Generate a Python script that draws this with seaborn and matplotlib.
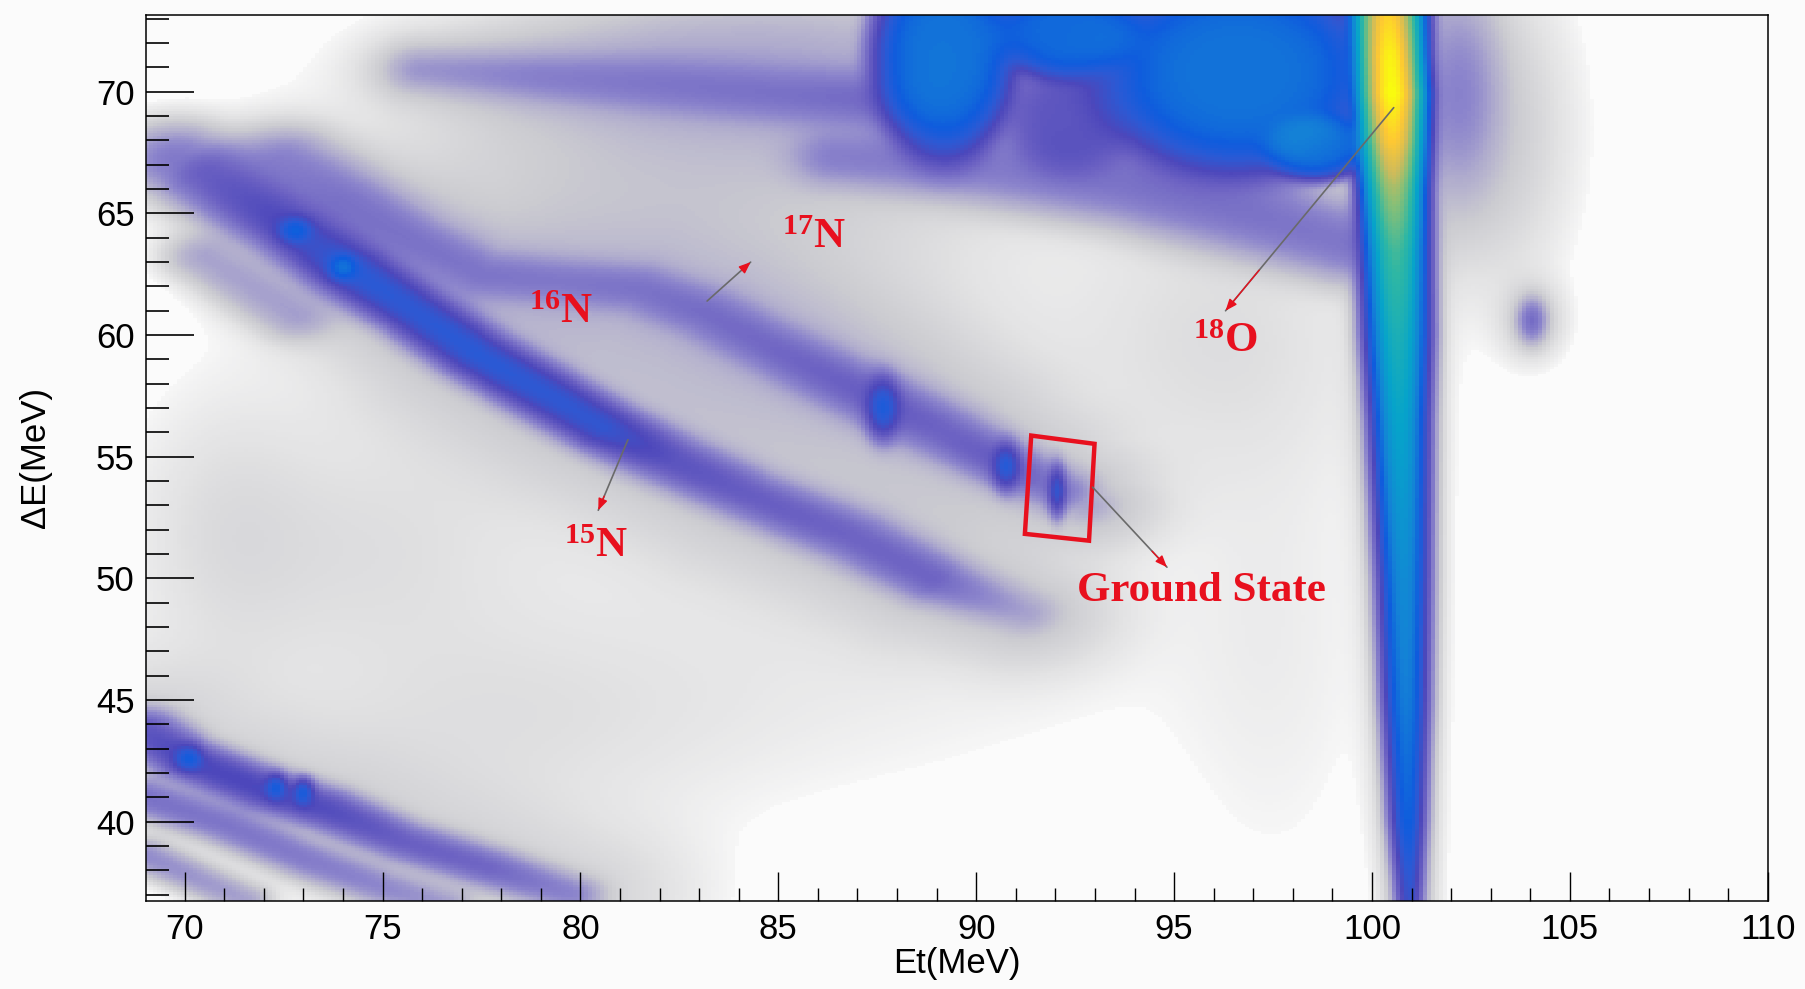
import numpy as np
import matplotlib
matplotlib.use("Agg")
import matplotlib.pyplot as plt
from matplotlib.colors import LinearSegmentedColormap
from matplotlib.patches import Polygon
from matplotlib.ticker import MultipleLocator
import seaborn as sns

# ---------------- values (Et, dE in MeV; counts per bin) ----------------
# strong nitrogen band (the one the 15N arrow points at)
band_a_et = [69.8, 70.6, 72.6, 74.2, 75.8, 77.4, 79.0, 80.6, 82.4, 84.3, 86.9, 88.9, 91.2]
band_a_de = [67.2, 66.6, 64.5, 62.7, 61.0, 59.2, 57.7, 56.2, 54.8, 53.4, 51.7, 50.0, 48.6]
band_a_sig = [0.8, 0.75, 0.6, 0.55, 0.5, 0.5, 0.5, 0.5, 0.55, 0.55, 0.6, 0.55, 0.5]
band_a_cnt = [1.5, 3, 6, 12, 11, 12, 11, 10, 4, 3, 2.5, 2.5, 0.5]
cloud_a_sig = [1.0, 1.1, 1.5, 1.8, 2.0, 2.2, 2.2, 2.2, 2.2, 2.2, 2.0, 1.8, 1.5]

# upper nitrogen band (17N), ends in the ground state spot
band_b_et = [72.6, 74.0, 75.8, 77.5, 79.5, 81.5, 83.2, 84.6, 86.3, 87.7, 89.2, 90.7, 92.1, 92.8]
band_b_de = [67.2, 65.6, 63.9, 62.5, 62.2, 61.9, 60.9, 59.7, 58.3, 57.2, 56.0, 54.7, 53.6, 53.0]
band_b_sig = [0.7, 0.7, 0.6, 0.6, 0.6, 0.6, 0.6, 0.6, 0.6, 0.6, 0.6, 0.5, 0.5, 0.4]
band_b_cnt = [1.0, 1.5, 1.5, 1.4, 1.3, 1.5, 1.8, 2.0, 2.5, 3, 2.5, 3, 1.5, 0.4]
cloud_b_sig = [1.0, 1.2, 1.5, 1.8, 2.0, 2.0, 2.0, 2.0, 2.0, 2.0, 2.0, 1.8, 1.5, 1.2]

# faint band along the top edge
band_c_et = [76.0, 79.0, 82.0, 85.0, 88.0]
band_c_de = [70.9, 70.6, 70.3, 69.9, 69.6]
band_c_sig = [0.5, 0.6, 0.7, 0.7, 0.7]
band_c_cnt = [0.6, 1.0, 1.2, 1.4, 2.0]
cloud_c_sig = [0.9, 1.2, 1.5, 1.6, 1.6]

# short faint band under the strong one
band_d_et = [70.5, 72.8]
band_d_de = [63.2, 60.8]
band_d_sig = [0.6, 0.6]
band_d_cnt = [0.7, 0.7]

# dense tail under the big blob
band_e_et = [86.5, 90.0, 94.0, 97.0, 99.3]
band_e_de = [67.3, 67.0, 66.2, 65.0, 63.8]
band_e_sig = [0.7, 0.9, 1.0, 1.0, 0.9]
band_e_cnt = [1.2, 1.5, 2.0, 2.0, 1.8]

# lower-left bands
band_l1_et = [69.0, 70.0, 72.0, 73.6, 75.5, 77.7, 79.8]
band_l1_de = [43.7, 42.6, 41.3, 40.5, 39.2, 38.1, 37.0]
band_l1_sig = [0.5, 0.45, 0.45, 0.45, 0.45, 0.45, 0.45]
band_l1_cnt = [4, 6, 6, 5, 3, 2.5, 1.2]
cloud_l1_sig = [2.0, 2.0, 2.0, 2.0, 2.0, 2.0, 2.0]
band_l2_et = [69.0, 71.0, 73.0, 75.0, 76.5]
band_l2_de = [41.0, 39.9, 38.5, 37.3, 36.6]
band_l2_sig = [0.45, 0.45, 0.45, 0.45, 0.45]
band_l2_cnt = [2.0, 1.8, 1.6, 1.2, 0.8]
band_l3_et = [69.0, 71.5]
band_l3_de = [38.6, 36.8]
band_l3_sig = [0.4, 0.4]
band_l3_cnt = [1.2, 0.8]

# elastic 18O ridge (vertical)
ridge_et = [100.40, 100.45, 100.50, 100.52, 100.55, 100.60, 100.65, 100.70, 100.80, 100.85, 100.90, 100.95]
ridge_de = [73.5, 71.5, 69.9, 68.0, 66.0, 63.5, 60.0, 56.5, 50.0, 45.0, 40.0, 36.5]
ridge_sig = [0.32, 0.30, 0.30, 0.30, 0.30, 0.31, 0.32, 0.30, 0.28, 0.26, 0.22, 0.18]
ridge_cnt = [1800, 2800, 3200, 1800, 700, 300, 160, 100, 50, 35, 20, 8]
cloud_r_sig = [0.8, 0.8, 0.8, 0.75, 0.7, 0.65, 0.6, 0.6, 0.55, 0.5, 0.45, 0.4]

# flat-topped blue blob at the top
plateau_et = [89.2, 92.3, 96.6, 98.6, 92.4]
plateau_de = [71.5, 72.5, 70.8, 67.8, 69.0]
plateau_rx = [1.5, 1.7, 3.0, 1.2, 1.6]
plateau_ry = [3.6, 1.7, 3.6, 1.2, 2.2]
plateau_cnt = [30, 25, 30, 25, 4]

# small spots
spot_et = [92.05, 90.75, 87.65, 74.0, 72.8, 70.1, 72.3, 73.0, 104.05, 102.2]
spot_de = [53.6, 54.6, 57.0, 62.8, 64.3, 42.6, 41.4, 41.2, 60.6, 70.0]
spot_sx = [0.12, 0.18, 0.22, 0.2, 0.25, 0.2, 0.15, 0.15, 0.2, 0.6]
spot_sy = [0.55, 0.5, 0.65, 0.3, 0.3, 0.3, 0.3, 0.3, 0.5, 2.5]
spot_cnt = [8, 10, 12, 18, 14, 12, 12, 12, 2.0, 1.2]

# diffuse clouds of single counts
cloud_et = [83.0, 85.0, 96.0, 86.0, 71.0, 103.0, 104.05, 78.0, 74.5, 84.5, 97.5]
cloud_de = [67.5, 72.0, 60.0, 47.0, 52.0, 68.5, 60.6, 44.0, 51.5, 60.0, 48.0]
cloud_sx = [5.0, 4.0, 2.5, 6.0, 1.5, 1.2, 0.5, 4.0, 3.0, 4.0, 1.8]
cloud_sy = [3.0, 1.5, 4.0, 4.0, 4.0, 4.0, 1.0, 3.0, 3.5, 3.0, 8.0]
cloud_cnt = [0.35, 0.4, 0.12, 0.06, 0.1, 0.3, 0.3, 0.1, 0.12, 0.2, 0.05]
cloud_band_cnt = [0.3, 0.35, 0.35, 0.5, 0.2]

# annotations
label_text = [r'$^{16}$N', r'$^{17}$N', r'$^{15}$N', r'$^{18}$O', 'Ground State']
label_et = [79.5, 85.9, 80.4, 96.3, 95.7]
label_de = [60.9, 64.0, 51.3, 59.7, 49.5]
arrow_tail = [(83.2, 61.4), (81.2, 55.7), (100.55, 69.35), (92.94, 53.75)]
arrow_tip = [(84.3, 63.0), (80.45, 52.8), (96.3, 61.0), (94.82, 50.46)]
box_et = [91.39, 92.99, 92.85, 91.23]
box_de = [55.87, 55.53, 51.55, 51.83]

# ---------------- build the 2D histogram ----------------
x_edges = np.arange(69.0, 110.05, 0.1)
y_edges = np.arange(36.6, 73.25, 0.1)
GX, GY = np.meshgrid((x_edges[:-1] + x_edges[1:]) / 2, (y_edges[:-1] + y_edges[1:]) / 2, indexing="ij")


def band_counts(et, de, sig, cnt):
    et, de = np.asarray(et, float), np.asarray(de, float)
    sig = np.broadcast_to(np.asarray(sig, float), et.shape)
    cnt = np.broadcast_to(np.asarray(cnt, float), et.shape)
    best = np.zeros_like(GX)
    for i in range(len(et) - 1):
        vx, vy = et[i + 1] - et[i], de[i + 1] - de[i]
        t = np.clip(((GX - et[i]) * vx + (GY - de[i]) * vy) / (vx * vx + vy * vy), 0, 1)
        d2 = (GX - et[i] - t * vx) ** 2 + (GY - de[i] - t * vy) ** 2
        s = sig[i] + t * (sig[i + 1] - sig[i])
        c = np.exp(np.log(cnt[i]) + t * (np.log(cnt[i + 1]) - np.log(cnt[i])))
        best = np.maximum(best, c * np.exp(-0.5 * d2 / s ** 2))
    return best


counts = np.zeros_like(GX)
bands = [
    (band_a_et, band_a_de, band_a_sig, band_a_cnt),
    (band_b_et, band_b_de, band_b_sig, band_b_cnt),
    (band_c_et, band_c_de, band_c_sig, band_c_cnt),
    (band_d_et, band_d_de, band_d_sig, band_d_cnt),
    (band_e_et, band_e_de, band_e_sig, band_e_cnt),
    (band_l1_et, band_l1_de, band_l1_sig, band_l1_cnt),
    (band_l2_et, band_l2_de, band_l2_sig, band_l2_cnt),
    (band_l3_et, band_l3_de, band_l3_sig, band_l3_cnt),
    (ridge_et, ridge_de, ridge_sig, ridge_cnt),
]
for b in bands:
    counts += band_counts(*b)

# wide, faint copies of the main paths give the grey speckle clouds
cloud_paths = [(band_a_et, band_a_de, cloud_a_sig), (band_b_et, band_b_de, cloud_b_sig),
               (band_c_et, band_c_de, cloud_c_sig), (ridge_et, ridge_de, cloud_r_sig),
               (band_l1_et, band_l1_de, cloud_l1_sig)]
for (et, de, s), c in zip(cloud_paths, cloud_band_cnt):
    counts += band_counts(et, de, s, c)

for x0, y0, rx, ry, c in zip(plateau_et, plateau_de, plateau_rx, plateau_ry, plateau_cnt):
    r2 = ((GX - x0) / rx) ** 2 + ((GY - y0) / ry) ** 2
    counts += c * np.exp(-r2 ** 2)

for x0, y0, sx, sy, c in zip(spot_et + cloud_et, spot_de + cloud_de, spot_sx + cloud_sx,
                             spot_sy + cloud_sy, spot_cnt + cloud_cnt):
    counts += c * np.exp(-0.5 * (((GX - x0) / sx) ** 2 + ((GY - y0) / sy) ** 2))

CMIN, CMAX = 0.03, 3200.0
level = (np.log10(np.maximum(counts, 1e-9)) - np.log10(CMIN)) / (np.log10(CMAX) - np.log10(CMIN))
level = np.clip(level, 0, 1)
level[counts < CMIN] = 0

# ROOT "bird" palette, with the sparse single-count region shown as the grey/lavender
# the speckle gives at normal viewing distance
bird = LinearSegmentedColormap.from_list("bird_speckle", [
    (0.00, "#f6f6f6"), (0.10, "#e4e4e5"), (0.20, "#cbcbd0"), (0.27, "#afabcd"),
    (0.33, "#8c85cc"), (0.40, "#6a60c2"), (0.46, "#4c47bb"), (0.52, "#2a5ad5"),
    (0.56, "#0f5cdd"), (0.62, "#1481d6"), (0.70, "#06a4ca"), (0.78, "#2eb7a4"),
    (0.85, "#87bf77"), (0.90, "#d1bb59"), (0.95, "#fec832"), (1.00, "#f9fb0e")])

# ---------------- draw ----------------
sns.set_style("ticks")
plt.rcParams["font.family"] = ["Liberation Sans", "DejaVu Sans"]
plt.rcParams["mathtext.fontset"] = "custom"
plt.rcParams["mathtext.rm"] = "Liberation Serif:bold"
plt.rcParams["mathtext.it"] = "Liberation Serif:bold"
plt.rcParams["mathtext.bf"] = "Liberation Serif:bold"

fig = plt.figure(figsize=(18.06, 9.89), dpi=100, facecolor="#fbfbfb")
ax = fig.add_axes([0.0808, 0.089, 0.898, 0.8959], facecolor="#fbfbfb")

sns.histplot(x=GX.ravel(), y=GY.ravel(), weights=level.ravel(), bins=[x_edges, y_edges],
             cmap=bird, vmin=0, vmax=1, ax=ax)
ax.set_axisbelow(False)

ax.set_xlim(69.02, 110.0)
ax.set_ylim(36.74, 73.16)

for s in ax.spines.values():
    s.set_linewidth(1.1)
    s.set_color("black")

ax.xaxis.set_major_locator(MultipleLocator(5))
ax.xaxis.set_minor_locator(MultipleLocator(1))
ax.yaxis.set_major_locator(MultipleLocator(5))
ax.yaxis.set_minor_locator(MultipleLocator(1))
ax.tick_params(axis="both", which="both", color="black", labelcolor="black")
ax.tick_params(axis="x", which="major", direction="in", length=21, width=1, labelsize=25, pad=9,
               top=False)
ax.tick_params(axis="x", which="minor", direction="in", length=9.5, width=1, top=False)
ax.tick_params(axis="y", which="major", direction="in", length=34.5, width=1.2, labelsize=25, pad=8,
               right=False)
ax.tick_params(axis="y", which="minor", direction="in", length=16.5, width=1.2, right=False)

ax.set_xlabel("Et(MeV)", fontsize=25, color="black")
ax.set_ylabel("ΔE(MeV)", fontsize=25, va="center", color="black")
ax.xaxis.set_label_coords(0.5, -0.052)
ax.yaxis.set_label_coords(-0.068, 0.5)

red = "#e8101e"
for (x0, y0), (x1, y1) in zip(arrow_tail, arrow_tip):
    ax.annotate("", xy=(x1, y1), xytext=(x0, y0),
                arrowprops=dict(arrowstyle="-", color="#6a6a6a", lw=1.2, shrinkA=0, shrinkB=0))
    xm, ym = x0 + 0.8 * (x1 - x0), y0 + 0.8 * (y1 - y0)
    ax.annotate("", xy=(x1, y1), xytext=(xm, ym),
                arrowprops=dict(arrowstyle="-|>,head_length=0.7,head_width=0.28", color=red,
                                lw=1.0, shrinkA=0, shrinkB=0))

for txt, x, y in zip(label_text, label_et, label_de):
    ax.text(x, y, txt, color=red, fontsize=31, ha="center", va="center",
            family="Liberation Serif", weight="bold")

ax.add_patch(Polygon(list(zip(box_et, box_de)), closed=True, fill=False, edgecolor=red, lw=3.2))

fig.savefig("out.png", dpi=100, facecolor=fig.get_facecolor())
